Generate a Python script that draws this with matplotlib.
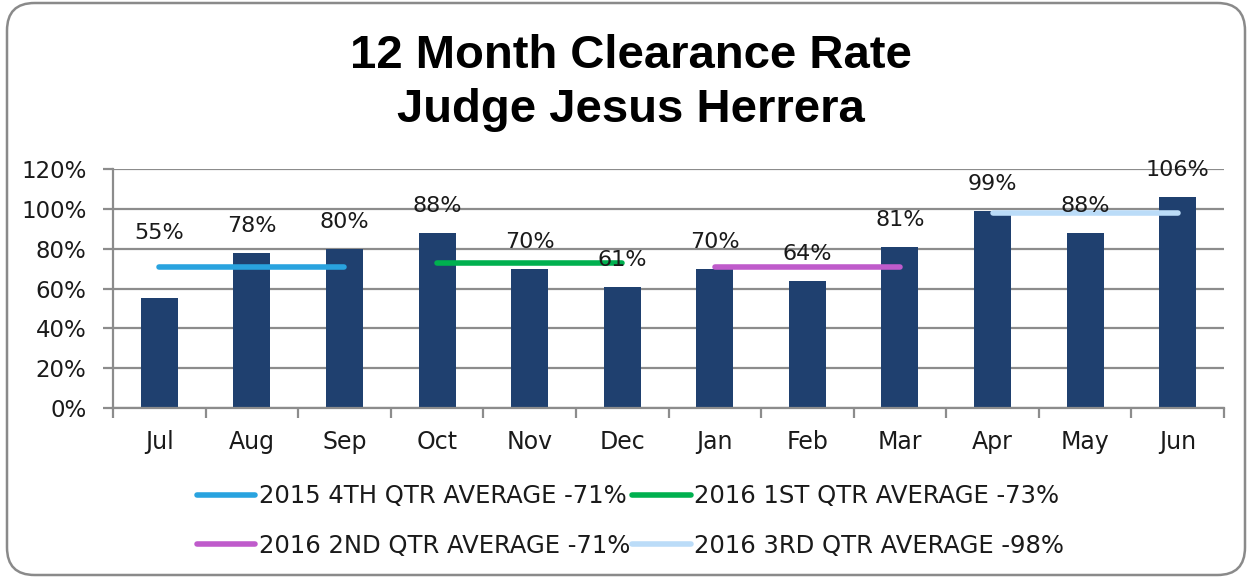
import matplotlib
matplotlib.use("Agg")
import matplotlib.pyplot as plt
from matplotlib.patches import FancyBboxPatch
from matplotlib.ticker import FuncFormatter, FixedLocator
import numpy as np

months = ["Jul", "Aug", "Sep", "Oct", "Nov", "Dec",
          "Jan", "Feb", "Mar", "Apr", "May", "Jun"]
clearance = [55, 78, 80, 88, 70, 61, 70, 64, 81, 99, 88, 106]

avg_labels = ["2015 4TH QTR AVERAGE -71%", "2016 1ST QTR AVERAGE -73%",
              "2016 2ND QTR AVERAGE -71%", "2016 3RD QTR AVERAGE -98%"]
avg_values = [71, 73, 71, 98]
avg_start = [0, 3, 6, 9]     # first month index of each quarter
avg_colors = ["#29A3DF", "#00B04F", "#BF5BCB", "#BBDCF8"]

bar_color = "#1F406F"
grid_color = "#8C8C8C"
text_color = "#1A1A1A"
font = ["DejaVu Sans"]

fig = plt.figure(figsize=(12.51, 5.77), dpi=100)
ax = fig.add_axes([113 / 1251, 1 - 408 / 577, (1224 - 113) / 1251, (408 - 169) / 577])

x = np.arange(len(months))
ax.bar(x, clearance, width=0.4, color=bar_color, zorder=2)

lines = []
for lbl, val, s, c in zip(avg_labels, avg_values, avg_start, avg_colors):
    ln, = ax.plot([x[s], x[s + 2]], [val, val], color=c, lw=4, solid_capstyle="round",
                  zorder=3, label=lbl)
    lines.append(ln)

# value labels above each bar (the July one sits higher)
for i, v in enumerate(clearance):
    dy = 47 if i == 0 else 19
    ax.annotate(f"{v}%", (x[i], v), xytext=(0, dy), textcoords="offset points",
                ha="center", va="center", fontsize=16, family=font, color=text_color, zorder=4)

ax.set_xlim(-0.5, len(months) - 0.5)
ax.set_ylim(0, 120)
ax.yaxis.set_major_locator(FixedLocator(range(0, 121, 20)))
ax.yaxis.set_major_formatter(FuncFormatter(lambda v, p: f"{int(v)}%"))
ax.yaxis.grid(True, color=grid_color, lw=1.6, zorder=0)
ax.set_axisbelow(True)

ax.set_xticks(x)
ax.set_xticklabels(months, family=font, fontsize=17, color=text_color)
ax.xaxis.set_minor_locator(FixedLocator(np.arange(-0.5, len(months), 1.0)))
ax.tick_params(axis="x", which="major", length=0, pad=16)
ax.tick_params(axis="x", which="minor", length=7, width=1.6, color=grid_color)
ax.tick_params(axis="y", length=7, width=1.6, color=grid_color, labelsize=16.5, pad=12)
for t in ax.get_yticklabels():
    t.set_family(font)
    t.set_color(text_color)

for side in ["top", "right"]:
    ax.spines[side].set_visible(False)
for side in ["left", "bottom"]:
    ax.spines[side].set_color(grid_color)
    ax.spines[side].set_linewidth(1.6)

fig.text(0.504, 1 - 83 / 577, "12 Month Clearance Rate\nJudge Jesus Herrera", ha="center", va="center",
         fontsize=34, fontweight="bold", family=["Liberation Sans", "DejaVu Sans"],
         linespacing=1.3, color="#000000")

# legend filled row by row
order = [0, 2, 1, 3]
leg = fig.legend(handles=[lines[k] for k in order], loc="center",
                 bbox_to_anchor=(0.504, 1 - 521 / 577), ncol=2,
                 frameon=False, prop={"family": font, "size": 17.5},
                 handlelength=2.4, handletextpad=0.15, columnspacing=0.1, labelspacing=1.05)
for t in leg.get_texts():
    t.set_color(text_color)
for h in leg.legend_handles:
    h.set_linewidth(4)
    h.set_solid_capstyle("round")

border = FancyBboxPatch((7 / 1251, 2 / 577), 1238 / 1251, 572 / 577,
                        boxstyle="round,pad=0,rounding_size=0.022",
                        transform=fig.transFigure, facecolor="none",
                        edgecolor="#8A8A8A", lw=1.8, mutation_aspect=1251 / 577)
fig.patches.append(border)

fig.savefig("out.png", dpi=100)
